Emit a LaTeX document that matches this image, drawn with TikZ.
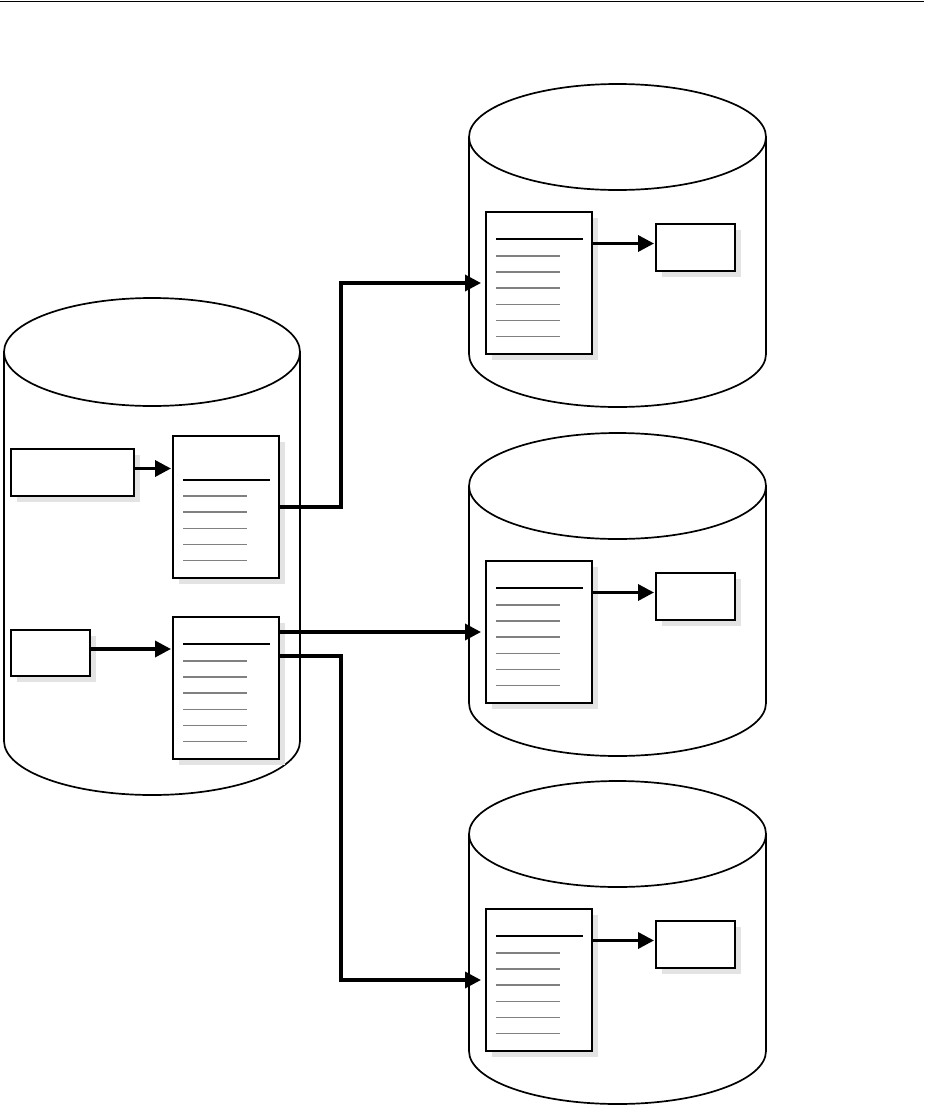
\documentclass[tikz,border=0pt]{standalone}
\usetikzlibrary{arrows.meta,shadows,calc}

\newcommand{\drumshape}[5]{% centre x, top y, bottom y, x radius, y radius
  \fill[white] (#1-#4,#2) -- (#1-#4,#3) arc[start angle=180, end angle=0, x radius=#4, y radius=#5] -- (#1+#4,#2) -- cycle;
  \draw[drum] (#1-#4,#2) -- (#1-#4,#3) arc[start angle=180, end angle=0, x radius=#4, y radius=#5] -- (#1+#4,#2);
  \draw[drum] (#1,#2) ellipse[x radius=#4, y radius=#5];
}
\newcommand{\docsheet}[5]{% name, x, y, offset of the bold rule, number of thin rules
  \node[sheet] (#1) at (#2,#3) {};
  \draw[rulebold] (#1.north west) ++(10,#4) -- ++(87,0);
  \foreach \k in {1,...,#5}
    \draw[rulethin] (#1.north west) ++(10,{124.5-(#5-\k)*16.1}) -- ++(64,0);
}

\begin{document}
\begin{tikzpicture}[x=1pt,y=-1pt,
    drum/.style={line width=1.7pt},
    sheet/.style={draw, line width=1.7pt, fill=white, anchor=north west, inner sep=0pt, outer sep=0pt,
      minimum width=106pt, minimum height=142pt,
      drop shadow={shadow xshift=6pt, shadow yshift=-6pt, fill=black!11, opacity=1}},
    tag/.style={draw, line width=1.7pt, fill=white, anchor=north west, inner sep=0pt, outer sep=0pt,
      minimum height=47pt,
      drop shadow={shadow xshift=6pt, shadow yshift=-6pt, fill=black!11, opacity=1}},
    rulebold/.style={line width=1.7pt, black},
    rulethin/.style={line width=1.5pt, black!50},
    flow/.style={line width=3.5pt, -{Triangle[length=16pt,width=16pt]}, shorten >=2pt}]
  \useasboundingbox (0,0) rectangle (924,1106);
  \draw[line width=1pt] (0,1) -- (924,1);

  % source store
  \drumshape{152}{352}{741}{148}{54}
  \node[tag, minimum width=123pt] (srcboxA) at (11,449) {};
  \node[tag, minimum width=79pt, minimum height=46pt] (srcboxB) at (11,630) {};
  \docsheet{srcdocA}{173}{436}{44}{5}
  \docsheet{srcdocB}{173}{617}{27}{6}
  \draw[flow] ([yshift=4pt]srcboxA.east) -- ([yshift=4pt]srcboxA.east -| srcdocA.west);
  \draw[flow] ([yshift=4pt]srcboxB.east) -- ([yshift=4pt]srcboxB.east -| srcdocB.west);

  % target stores
  \foreach \n/\dy in {A/0,B/349,C/697} {
    \drumshape{617.5}{137+\dy}{354+\dy}{148.5}{53}
    \docsheet{dstdoc\n}{486}{212+\dy}{27}{6}
    \node[tag, minimum width=79pt] (dstbox\n) at (656,224+\dy) {};
    \draw[flow] ([yshift=4pt]dstbox\n.west -| dstdoc\n.east) -- ([yshift=4pt]dstbox\n.west);
  }

  % copies
  \draw[flow, shorten >=5pt] (srcdocA.east) -- ++(62,0) |- (dstdocA.west);
  \draw[flow, shorten >=5pt] (srcdocB.east |- dstdocB.west) -- (dstdocB.west);
  \draw[flow, shorten >=5pt] ([yshift=-39pt]srcdocB.north east) -- ++(62,0) |- (dstdocC.west);
\end{tikzpicture}
\end{document}
